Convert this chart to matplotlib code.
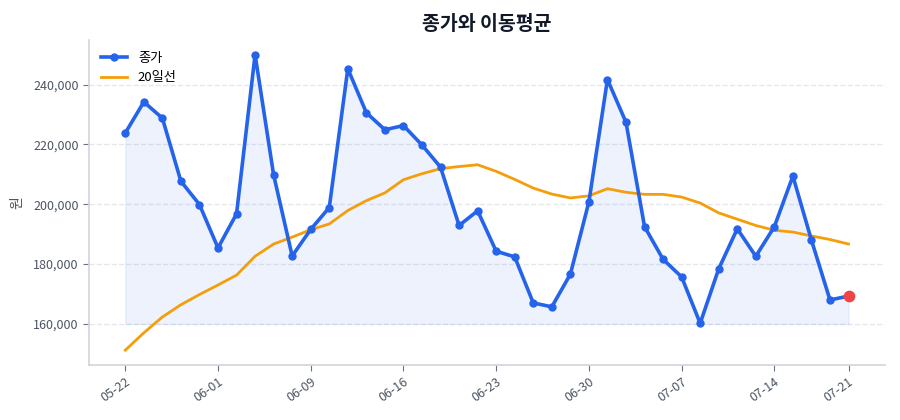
import numpy as np
import matplotlib
matplotlib.use('Agg')
import matplotlib.pyplot as plt

plt.rcParams['font.family'] = ['Noto Sans CJK KR', 'DejaVu Sans']
plt.rcParams['axes.unicode_minus'] = False

# Close prices (40 trading days)
close = [223800, 234200, 228800, 207700, 199900, 185400, 196800, 250000, 209800, 182700,
         191600, 198900, 245300, 230600, 224900, 226300, 219800, 212400, 192900, 197800,
         184300, 182400, 167000, 165700, 176600, 200800, 241700, 227400, 192500, 181600,
         175700, 160200, 178400, 191800, 182600, 192500, 209400, 188000, 168000, 169300]

# 20-day moving average
ma20 = [151200, 157000, 162300, 166400, 169800, 173000, 176300, 182600, 186700, 189000,
        191500, 193400, 197900, 201200, 203800, 208200, 210200, 211900, 212600, 213200,
        211000, 208300, 205400, 203400, 202100, 202800, 205200, 204000, 203300, 203300,
        202400, 200400, 197100, 195000, 192900, 191300, 190700, 189400, 188200, 186700]

tick_idx = [0, 5, 10, 15, 20, 25, 30, 35, 39]
tick_labels = ['05-22', '06-01', '06-09', '06-16', '06-23', '06-30', '07-07', '07-14', '07-21']

blue = '#2563eb'
orange = '#f59e0b'
red = '#ef4444'
text_col = '#4b5563'

x = np.arange(len(close))

fig = plt.figure(figsize=(9, 4.2), dpi=100)
ax = fig.add_axes([0.099, 0.131, 0.884, 0.774])

ax.fill_between(x, close, 160000, color=blue, alpha=0.08, linewidth=1)
ax.plot(x, close, color=blue, linewidth=2.6, marker='o', markersize=5, label='종가', zorder=3)
ax.plot(x, ma20, color=orange, linewidth=2, label='20일선', zorder=2)
ax.scatter([x[-1]], [close[-1]], color=red, s=55, zorder=4)

ax.set_xticks(tick_idx)
ax.set_xticklabels(tick_labels, rotation=35, ha='right', rotation_mode='anchor')
ax.yaxis.set_major_formatter(matplotlib.ticker.FuncFormatter(lambda v, p: f'{int(v):,}'))
ax.set_yticks([160000, 180000, 200000, 220000, 240000])

ax.grid(axis='y', linestyle='--', color='#e5e7eb', linewidth=1)
ax.set_axisbelow(True)
for s in ['top', 'right']:
    ax.spines[s].set_visible(False)
for s in ['left', 'bottom']:
    ax.spines[s].set_color('#d1d5db')
    ax.spines[s].set_linewidth(1.2)
ax.tick_params(colors=text_col, labelsize=9, length=4)
ax.tick_params(axis='both', color='#6b7280')

ax.set_ylabel('원', color=text_col, fontsize=10, labelpad=6)
ax.set_title('종가와 이동평균', fontsize=14, fontweight='bold', color='#111827', pad=7)
leg = ax.legend(loc='upper left', frameon=False, fontsize=9.5)

fig.savefig('out.png', dpi=100)
